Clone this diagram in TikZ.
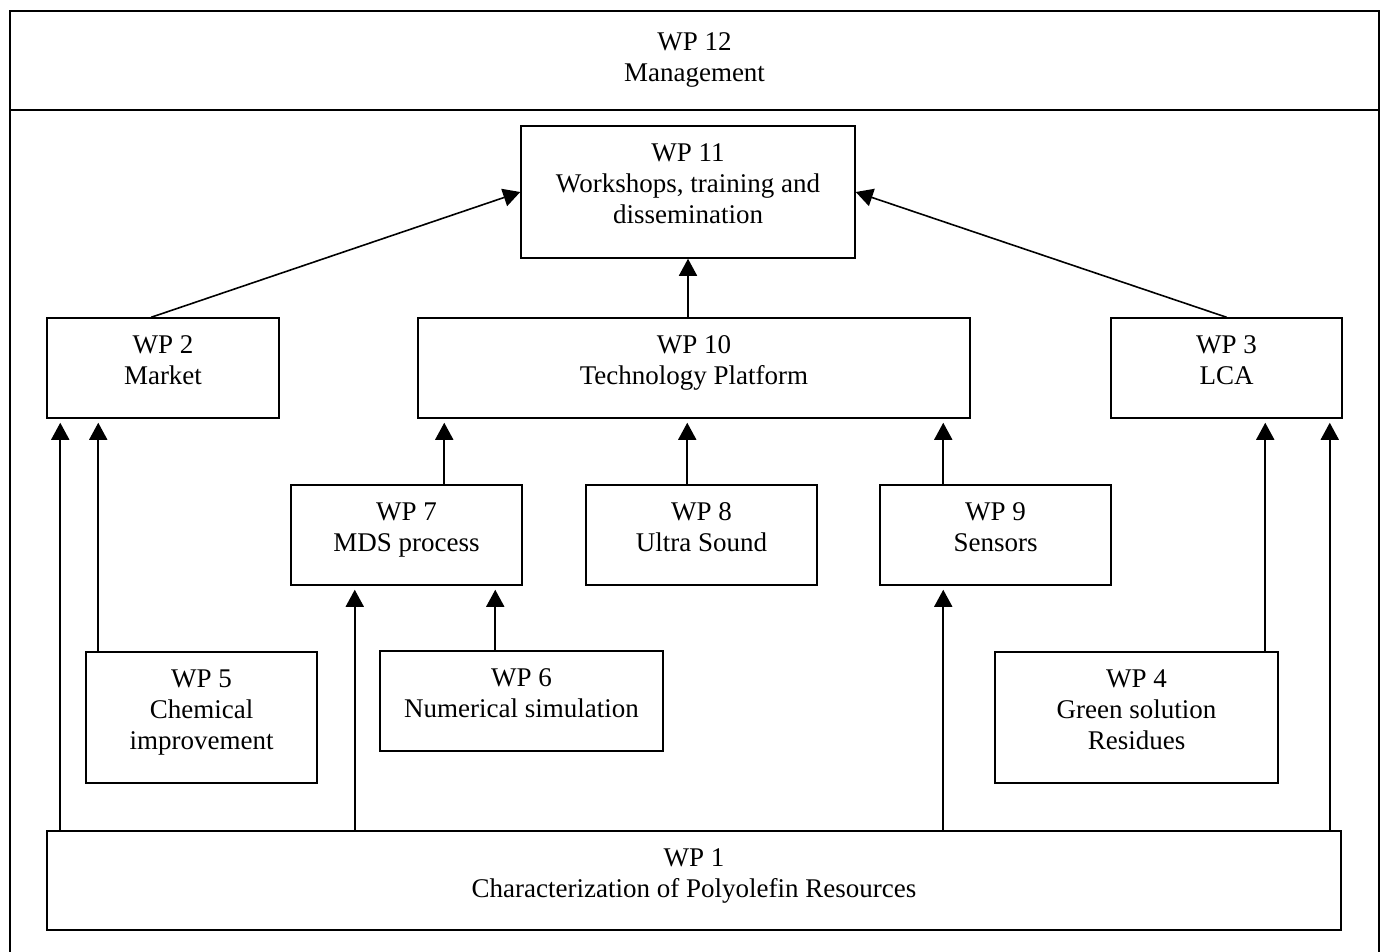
\documentclass[tikz,border=0pt]{standalone}
\usepackage{fontspec}
\setmainfont{Liberation Serif}
\usetikzlibrary{arrows.meta,calc}
\tikzset{
  box/.style={draw, line width=1.5pt, inner sep=0pt},
  caption/.style={inner sep=0pt, align=center, anchor=north,
    font=\fontsize{27}{31}\selectfont},
  link/.style={line width=1.5pt},
  arr/.style={line width=1.6pt, -{Triangle[width=18pt,length=17pt]}},
  gap/.style={shorten >=4pt},
}
% work package box: name, left, top, right, bottom, caption
\newcommand\wpbox[6]{%
  \node[box, minimum width={#4-#2}, minimum height={#5-#3}] (#1)
    at ({(#2+#4)/2},{(#3+#5)/2}) {};
  \node[caption] (#1-t) at ([yshift=-18pt]#1.north) {#6};
}
\begin{document}
\begin{tikzpicture}[x=1pt,y=-1pt]
\useasboundingbox (0,0) rectangle (1383,951);
\clip (0,0) rectangle (1383,951);

% outer frame and management band
\draw[line width=2pt] (10,960) |- (1379,11) -- (1379,960);
\draw[line width=1.5pt] (10,110) -- (1379,110);
\node[caption] (wp12) at (694.5,32) {WP 12\\Management};

% work packages
\wpbox{wp11}{521}{126}{855}{258}{WP 11\\Workshops, training and\\dissemination}
\wpbox{wp2}{47}{318}{279}{418}{WP 2\\Market}
\wpbox{wp10}{418}{318}{970}{418}{WP 10\\Technology Platform}
\wpbox{wp3}{1111}{318}{1342}{418}{WP 3\\LCA}
\wpbox{wp7}{291}{485}{522}{585}{WP 7\\MDS process}
\wpbox{wp8}{586}{485}{817}{585}{WP 8\\Ultra Sound}
\wpbox{wp9}{880}{485}{1111}{585}{WP 9\\Sensors}
\wpbox{wp5}{86}{652}{317}{783}{WP 5\\Chemical\\improvement}
\wpbox{wp6}{380}{651}{663}{751}{WP 6\\Numerical simulation}
\wpbox{wp4}{995}{652}{1278}{783}{WP 4\\Green solution\\Residues}
\wpbox{wp1}{47}{831}{1341}{930}{WP 1\\Characterization of Polyolefin Resources}

% connector start points
\coordinate (s2) at ([xshift=105pt]wp2.north west);
\coordinate (s1a) at ([xshift=14pt]wp1.north west);
\coordinate (s5) at ([xshift=13pt]wp5.north west);
\coordinate (s1b) at ([xshift=308.5pt]wp1.north west);
\coordinate (s6) at ([xshift=116pt]wp6.north west);
\coordinate (s7) at ([xshift=154pt]wp7.north west);
\coordinate (s8) at ([xshift=102pt]wp8.north west);
\coordinate (s1c) at ([xshift=897pt]wp1.north west);
\coordinate (s9) at ([xshift=64pt]wp9.north west);
\coordinate (s4) at ([xshift=271pt]wp4.north west);
\coordinate (s1d) at ([xshift=-12pt]wp1.north east);

% into WP 11
\draw[arr] (s2) -- (wp11.west);
\draw[arr] (wp3.north) -- (wp11.east);
\draw[arr] (wp10.north -| wp11.south) -- (wp11.south);

% into WP 10
\draw[arr,gap] (s7) -- (s7 |- wp10.south);
\draw[arr,gap] (s8) -- (s8 |- wp10.south);
\draw[arr,gap] (s9) -- (s9 |- wp10.south);

% into WP 2 and WP 3
\draw[arr,gap] (s1a) -- (s1a |- wp2.south);
\draw[arr,gap] (s5) -- (s5 |- wp2.south);
\draw[arr,gap] (s4) -- (s4 |- wp3.south);
\draw[arr,gap] (s1d) -- (s1d |- wp3.south);

% into WP 7 and WP 9
\draw[arr,gap] (s1b) -- (s1b |- wp7.south);
\draw[arr,gap] (s6) -- (s6 |- wp7.south);
\draw[arr,gap] (s1c) -- (s1c |- wp9.south);
\end{tikzpicture}
\end{document}
